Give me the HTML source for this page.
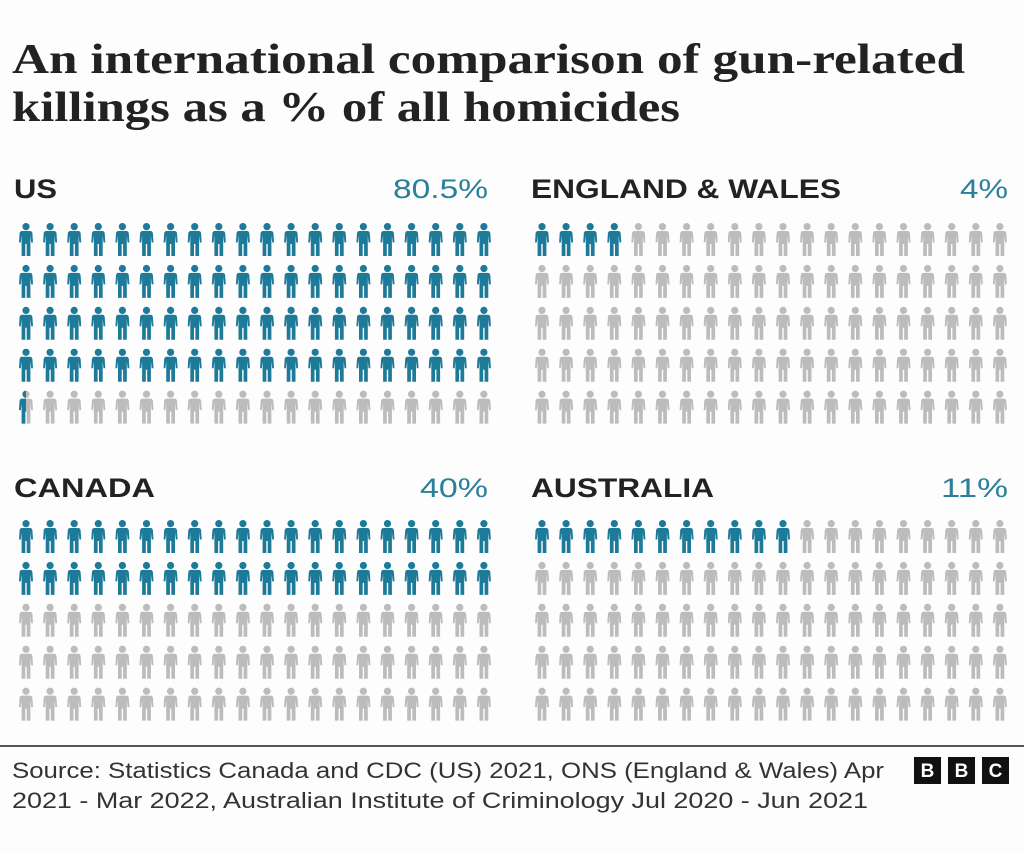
<!DOCTYPE html>
<html><head><meta charset="utf-8"><style>
html,body{margin:0;padding:0;background:#fdfdfd;}
svg{display:block;}
</style></head><body>
<svg id="s" width="1024" height="853" viewBox="0 0 1024 853" xmlns="http://www.w3.org/2000/svg">
<defs>
<path id="p" d="M7,0 a3.6,3.6 0 1,1 -0.01,0 Z M3.2,8 H10.8 Q13,8 13.4,10.2 L14,19.5 H12.2 L11.4,12.5 V33 H7.7 V21 H6.3 V33 H2.6 V12.5 L1.8,19.5 H0 L0.6,10.2 Q1,8 3.2,8 Z"/>
<clipPath id="half"><rect x="0" y="0" width="7" height="34"/></clipPath>
</defs>
<rect width="1024" height="853" fill="#fdfdfd"/>
<g font-family="Liberation Serif, serif" font-weight="bold" font-size="42" fill="#222">
<text x="12" y="73" textLength="953" lengthAdjust="spacingAndGlyphs">An international comparison of gun-related</text>
<text x="12" y="121" textLength="668" lengthAdjust="spacingAndGlyphs">killings as a % of all homicides</text>
</g>
<g font-family="Liberation Sans, sans-serif" font-size="27">
<text x="14" y="198" font-weight="bold" fill="#222" textLength="43" lengthAdjust="spacingAndGlyphs">US</text>
<text x="393" y="198" fill="#2a7f9b" textLength="95" lengthAdjust="spacingAndGlyphs">80.5%</text>
<text x="531" y="198" font-weight="bold" fill="#222" textLength="310" lengthAdjust="spacingAndGlyphs">ENGLAND &amp; WALES</text>
<text x="960" y="198" fill="#2a7f9b" textLength="48" lengthAdjust="spacingAndGlyphs">4%</text>
<text x="14" y="497" font-weight="bold" fill="#222" textLength="141" lengthAdjust="spacingAndGlyphs">CANADA</text>
<text x="420" y="497" fill="#2a7f9b" textLength="68" lengthAdjust="spacingAndGlyphs">40%</text>
<text x="531" y="497" font-weight="bold" fill="#222" textLength="183" lengthAdjust="spacingAndGlyphs">AUSTRALIA</text>
<text x="941" y="497" fill="#2a7f9b" textLength="67" lengthAdjust="spacingAndGlyphs">11%</text>
</g>
<g id="icons"></g>
<line x1="0" y1="746" x2="1024" y2="746" stroke="#555" stroke-width="2"/>
<g font-family="Liberation Sans, sans-serif" font-size="22" fill="#333">
<text x="12" y="778" textLength="872" lengthAdjust="spacingAndGlyphs">Source: Statistics Canada and CDC (US) 2021, ONS (England &amp; Wales) Apr</text>
<text x="12" y="808" textLength="856" lengthAdjust="spacingAndGlyphs">2021 - Mar 2022, Australian Institute of Criminology Jul 2020 - Jun 2021</text>
</g>
<g font-family="Liberation Sans, sans-serif" font-size="19" font-weight="bold" fill="#fff" text-anchor="middle">
<rect x="914" y="757" width="27" height="27" fill="#111"/><text x="927.5" y="777">B</text>
<rect x="948" y="757" width="27" height="27" fill="#111"/><text x="961.5" y="777">B</text>
<rect x="982" y="757" width="27" height="27" fill="#111"/><text x="995.5" y="777">C</text>
</g>
</svg>
<script>
var g=document.getElementById('icons'),NS='http://www.w3.org/2000/svg';
var B='#1d7a99',G='#bcbcbc';
function panel(x0,y0,n,half){
 for(var r=0;r<5;r++)for(var c=0;c<20;c++){
  var i=r*20+c,x=x0+c*24.1,y=y0+r*41.9;
  var u=document.createElementNS(NS,'use');
  u.setAttribute('href','#p');u.setAttribute('transform','translate('+x.toFixed(1)+','+y.toFixed(1)+')');
  u.setAttribute('fill',i<n?B:G);g.appendChild(u);
  if(half&&i==n){var h=document.createElementNS(NS,'use');h.setAttribute('href','#p');
   h.setAttribute('transform','translate('+x.toFixed(1)+','+y.toFixed(1)+')');h.setAttribute('fill',B);
   h.setAttribute('clip-path','url(#half)');g.appendChild(h);}
 }
}
panel(19,223,80,true);
panel(535,223,4,false);
panel(19,520,40,false);
panel(535,520,11,false);
</script>
</body></html>
